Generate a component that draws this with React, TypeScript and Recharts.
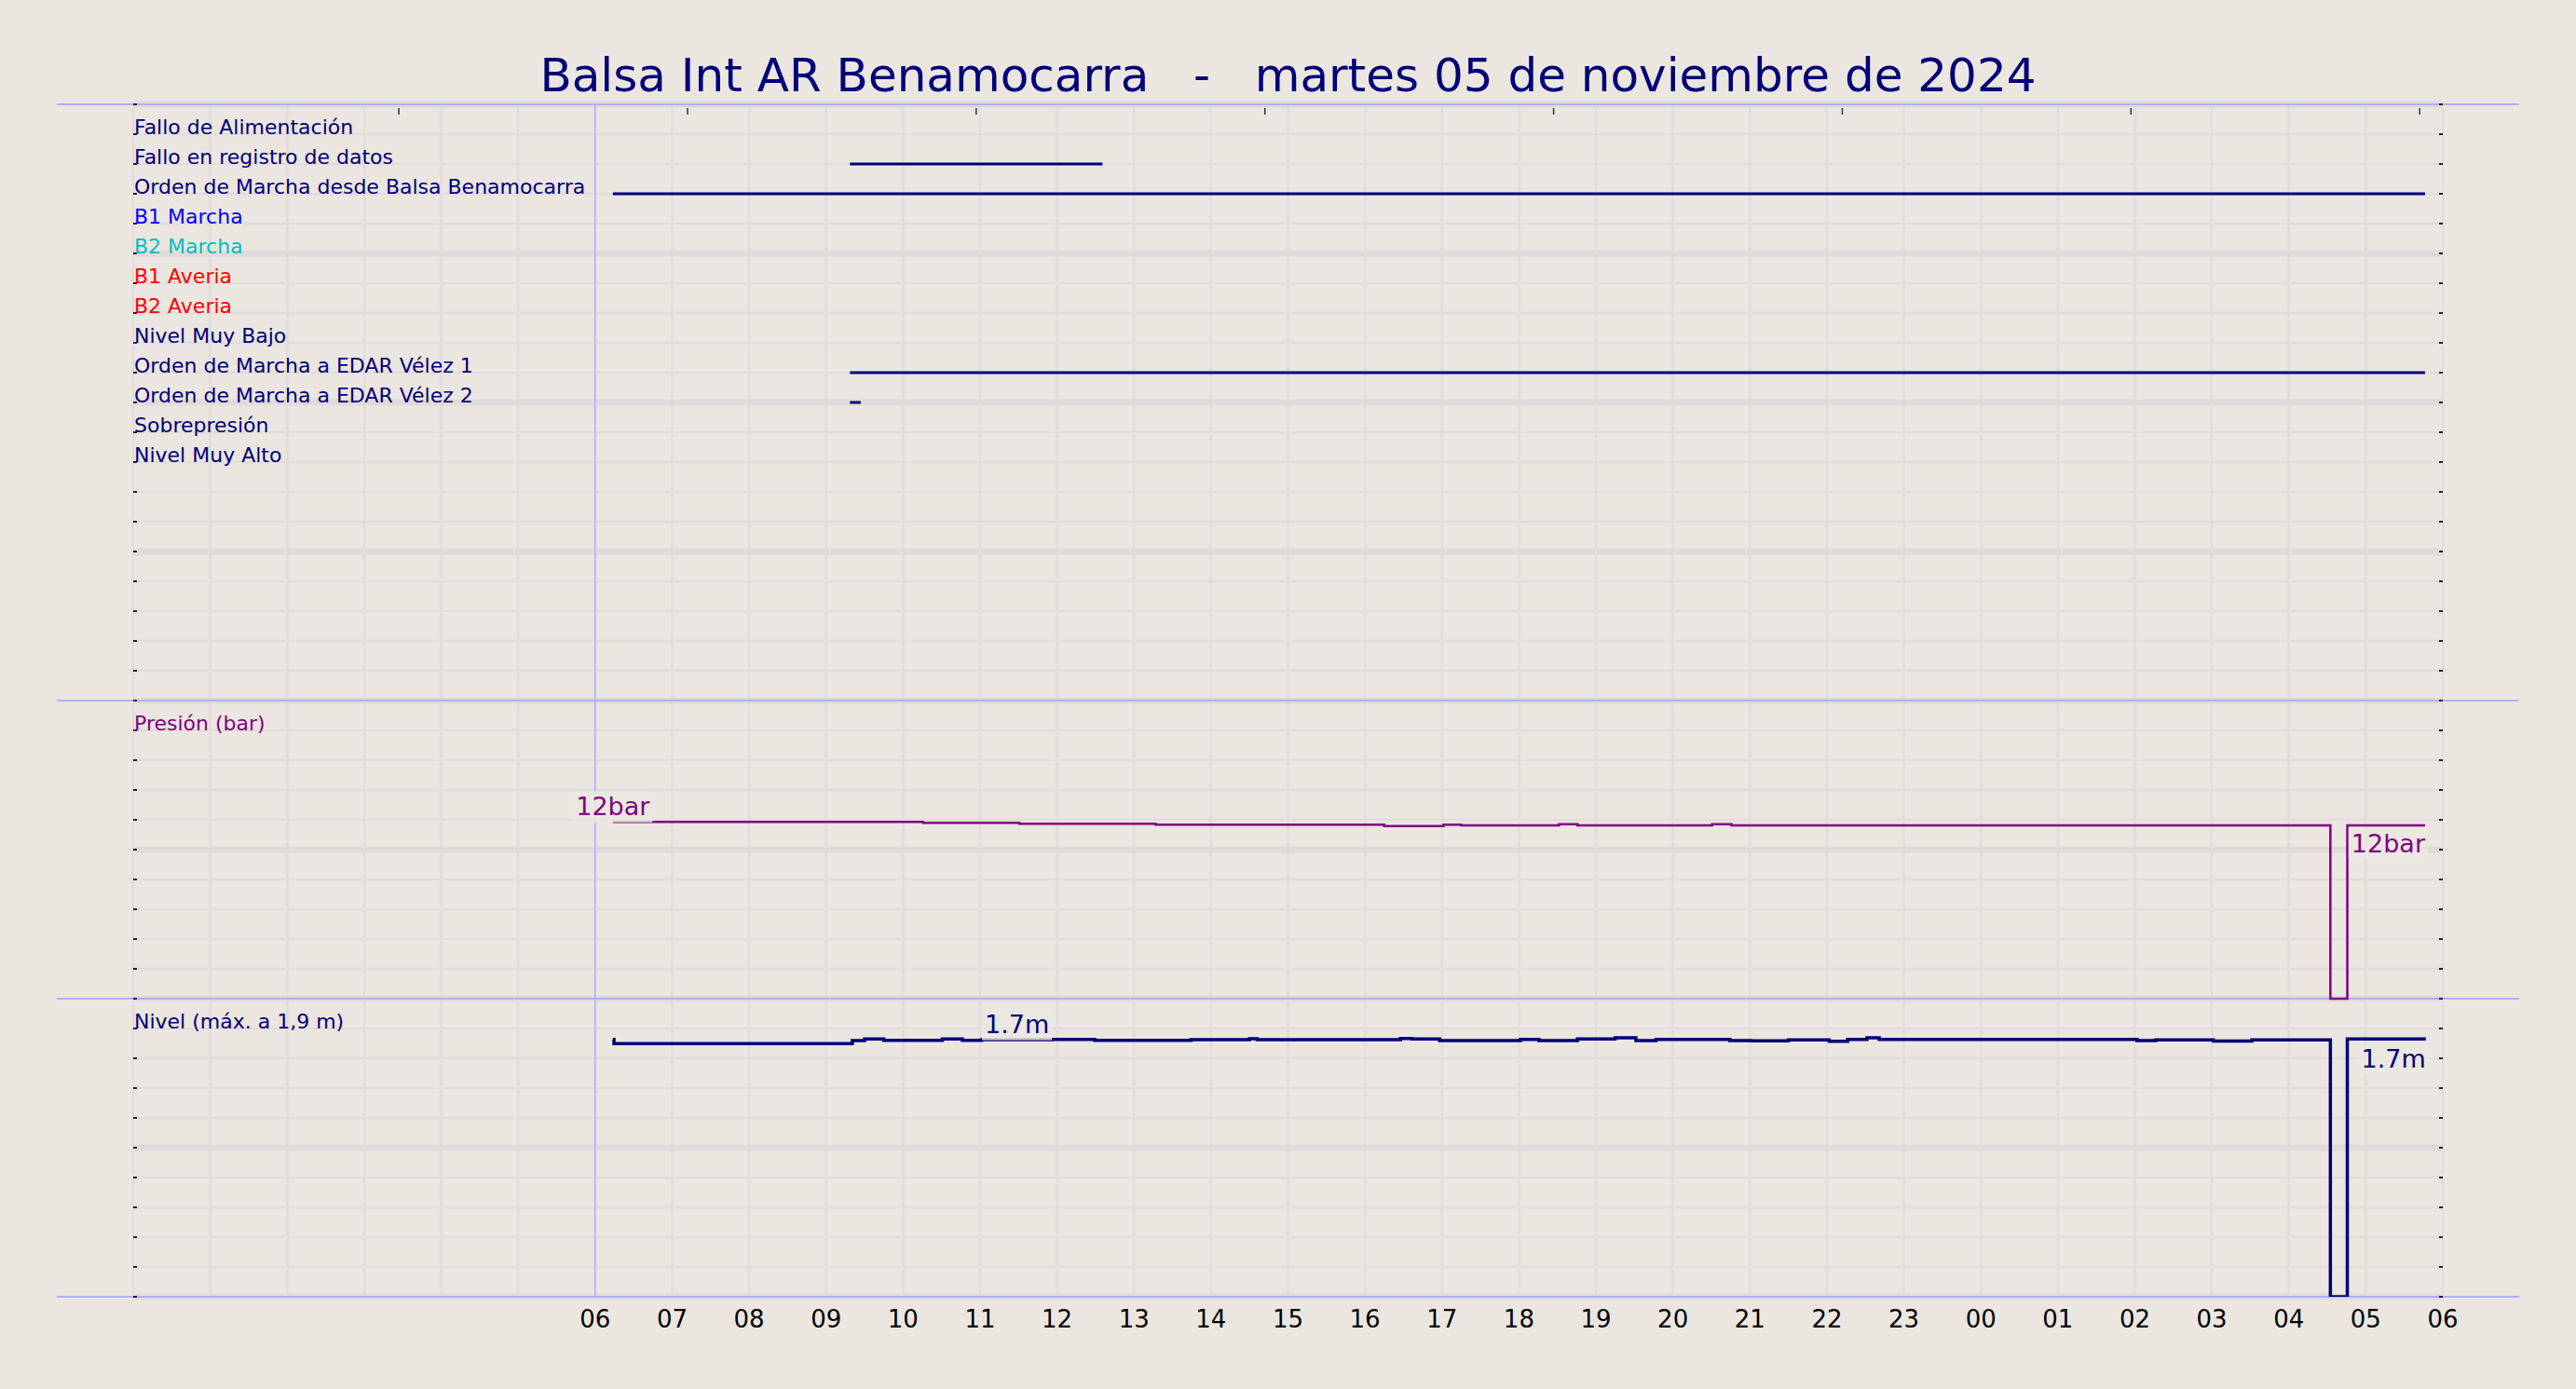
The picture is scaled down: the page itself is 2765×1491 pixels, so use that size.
import React from 'react';
import { ComposedChart, Line, XAxis, YAxis, CartesianGrid, ReferenceLine } from 'recharts';

// ---------- data ----------
const TITLE = 'Balsa Int AR Benamocarra   -   martes 05 de noviembre de 2024';

// x axis: hours since 00:00 of the first day (0..30), labelled from 06 to 06
const xTickHours = [0, 1, 2, 3, 4, 5, 6, 7, 8, 9, 10, 11, 12, 13, 14, 15, 16, 17, 18, 19, 20, 21, 22, 23, 24, 25, 26, 27, 28, 29, 30];
const xTickLabels = ['', '', '', '', '', '', '06', '07', '08', '09', '10', '11', '12', '13', '14', '15', '16', '17', '18', '19', '20', '21', '22', '23', '00', '01', '02', '03', '04', '05', '06'];
const topTickHours = [3.45, 7.2, 10.95, 14.7, 18.45, 22.2, 25.95, 29.7];

// row grid (40 rows across the three panels)
const rowTicks = [0, 1, 2, 3, 4, 5, 6, 7, 8, 9, 10, 11, 12, 13, 14, 15, 16, 17, 18, 19, 20, 21, 22, 23, 24, 25, 26, 27, 28, 29, 30, 31, 32, 33, 34, 35, 36, 37, 38, 39, 40];
const bandTicks = [0, 5, 10, 15, 20, 25, 30, 35];
const panelBounds = [40, 20, 10, 0];

// digital signals
const signalNames = [
  'Fallo de Alimentación',
  'Fallo en registro de datos',
  'Orden de Marcha desde Balsa Benamocarra',
  'B1 Marcha',
  'B2 Marcha',
  'B1 Averia',
  'B2 Averia',
  'Nivel Muy Bajo',
  'Orden de Marcha a EDAR Vélez 1',
  'Orden de Marcha a EDAR Vélez 2',
  'Sobrepresión',
  'Nivel Muy Alto',
];
const signalColors = ['#000078', '#000078', '#000078', '#0000ff', '#00bfbf', '#ff0000', '#ff0000', '#000078', '#000078', '#000078', '#000078', '#000078'];
const signalRows = [39, 38, 37, 36, 35, 34, 33, 32, 31, 30, 29, 28];
const signalOnIntervals: number[][][] = [
  [],
  [[9.31, 12.59]],
  [[6.23, 29.77]],
  [],
  [],
  [],
  [],
  [],
  [[9.31, 29.77]],
  [[9.31, 9.45]],
  [],
  [],
];

// analog panels
const pressureTitle = 'Presión (bar)';
const pressureTitleRow = 19;
const levelTitle = 'Nivel (máx. a 1,9 m)';
const levelTitleRow = 9;

const pressureHours = [6.23, 10.26, 11.51, 13.28, 16.25, 17.02, 17.25, 18.52, 18.76, 20.51, 20.76, 28.54, 28.76, 29.77];
const pressureBar = [11.86, 11.79, 11.73, 11.67, 11.58, 11.67, 11.62, 11.71, 11.62, 11.71, 11.62, 0, 11.62, 11.62];
const pressureMarkHour = 6.23;

const levelHours = [6.23, 6.245, 9.34, 9.5, 9.75, 10.51, 10.77, 11.02, 11.48, 11.93, 12.49, 13.74, 14.5, 14.6, 16.46, 16.61, 16.97, 18.02, 18.26, 18.76, 19.25, 19.52, 19.78, 20.74, 21.01, 21.5, 22.03, 22.27, 22.52, 22.68, 26.03, 26.27, 27.02, 27.52, 28.02, 28.54, 28.76, 29.78];
const levelM = [1.727, 1.698, 1.719, 1.729, 1.721, 1.729, 1.721, 1.725, 1.725, 1.727, 1.721, 1.725, 1.731, 1.725, 1.733, 1.729, 1.719, 1.727, 1.719, 1.729, 1.737, 1.719, 1.727, 1.719, 1.717, 1.723, 1.714, 1.727, 1.737, 1.727, 1.719, 1.723, 1.716, 1.723, 1.723, 0, 1.729, 1.729];
const levelMarkHour = 11.48;

// ---------- style ----------
const W = 2765;
const H = 1491;
const BG = '#ebe6e0';
const NAVY = '#000078';
const PURPLE = '#800080';
const SEP = '#b0b0ff';
const GRID = '#e2ddd9';
const BAND = '#e0dbda';
const FONT = 'DejaVu Sans';
const SEP_EXT = 82;

const pressureData = pressureHours.map((h, i) => ({ h, v: pressureBar[i] }));
const levelData = levelHours.map((h, i) => ({ h, v: levelM[i] }));

const CW: Record<string, number> = { '.': 0.318, b: 0.635, a: 0.613, r: 0.411, m: 0.974 };
const textW = (s: string, fs: number) => s.split('').reduce((acc, c) => acc + (CW[c] ?? 0.636), 0) * fs;

const rowLabel = (v: number): { text: string; color: string } | null => {
  const i = signalRows.indexOf(v);
  if (i >= 0) return { text: signalNames[i], color: signalColors[i] };
  if (v === pressureTitleRow) return { text: pressureTitle, color: PURPLE };
  if (v === levelTitleRow) return { text: levelTitle, color: NAVY };
  return null;
};

const RowTick = (props: any) => {
  const { x, y, payload } = props;
  const lab = rowLabel(payload.value);
  if (!lab) return <g />;
  return (
    <text x={x - 3} y={y} fill={lab.color} fontSize={22} fontFamily={FONT} textAnchor="start">
      {lab.text}
    </text>
  );
};

const EmptyTick = () => <g />;

const HourTick = (props: any) => {
  const { x, y, payload } = props;
  const i = xTickHours.indexOf(payload.value);
  const t = i >= 0 ? xTickLabels[i] : '';
  return (
    <text x={x} y={y + 19} textAnchor="middle" fontSize={26} fill="#000" fontFamily={FONT}>
      {t}
    </text>
  );
};

const SeparatorShape = (p: any) => (
  <line x1={p.x1 - SEP_EXT} y1={p.y1} x2={p.x2 + SEP_EXT} y2={p.y2} stroke={SEP} strokeWidth={2} />
);

const makeValueLabel = (
  markIndex: number,
  lastIndex: number,
  fmt: (v: number) => string,
  color: string,
  belowOffset: number
) => (props: any) => {
  const { x, y, value, index } = props;
  if (index !== markIndex && index !== lastIndex) return <g key={`n${index}`} />;
  const fs = 27;
  const text = fmt(Number(value));
  const w = textW(text, fs);
  let tx: number;
  let baseline: number;
  let boxBottom: number;
  if (index === markIndex) {
    tx = x - w / 2;
    baseline = y - 7;
    boxBottom = y + 0.5;
  } else {
    tx = x - w;
    baseline = y + belowOffset;
    boxBottom = baseline + 6;
  }
  const boxTop = baseline - 26;
  return (
    <g key={`l${index}`}>
      <rect x={tx - 3} y={boxTop} width={w + 6} height={boxBottom - boxTop} fill={BG} fillOpacity={0.85} />
      <text x={tx} y={baseline} fontSize={fs} fill={color} fontFamily={FONT}>
        {text}
      </text>
    </g>
  );
};

const pressureLabel = makeValueLabel(
  pressureHours.indexOf(pressureMarkHour),
  pressureHours.length - 1,
  (v) => `${Math.round(v)}bar`,
  PURPLE,
  29
);
const levelLabel = makeValueLabel(
  levelHours.indexOf(levelMarkHour),
  levelHours.length - 1,
  (v) => `${v.toFixed(1)}m`,
  NAVY,
  31
);

export default function App() {
  return (
    <div style={{ position: 'relative', width: W, height: H, background: BG }}>
      <style>{`body{margin:0;background:${BG};}`}</style>
      <ComposedChart width={W} height={H} margin={{ top: 112, right: 143, bottom: 69, left: 143 }}>
        <CartesianGrid stroke={GRID} strokeWidth={2.5} yAxisId={0} xAxisId={0} />
        <CartesianGrid stroke={BAND} strokeWidth={7} vertical={false} yAxisId="band" xAxisId={0} />
        <XAxis
          xAxisId={0}
          dataKey="h"
          type="number"
          domain={[0, 30]}
          allowDataOverflow
          ticks={xTickHours}
          interval={0}
          tick={<HourTick />}
          tickLine={false}
          axisLine={false}
          tickSize={0}
          tickMargin={14}
        />
        <XAxis
          xAxisId="top"
          dataKey="h"
          type="number"
          orientation="top"
          mirror
          domain={[0, 30]}
          allowDataOverflow
          ticks={topTickHours}
          interval={0}
          tick={<EmptyTick />}
          axisLine={false}
          tickSize={11}
          tickLine={{ stroke: '#333', strokeWidth: 1.5, strokeDasharray: '7 30' }}
        />
        <YAxis
          yAxisId={0}
          type="number"
          orientation="left"
          mirror
          domain={[0, 40]}
          allowDataOverflow
          ticks={rowTicks}
          interval={0}
          tick={<RowTick />}
          tickSize={4}
          tickMargin={0}
          axisLine={false}
          tickLine={{ stroke: '#222', strokeWidth: 2 }}
        />
        <YAxis
          yAxisId="right"
          type="number"
          orientation="right"
          mirror
          domain={[0, 40]}
          allowDataOverflow
          ticks={rowTicks}
          interval={0}
          tick={<EmptyTick />}
          tickSize={4}
          axisLine={false}
          tickLine={{ stroke: '#222', strokeWidth: 2 }}
        />
        <YAxis yAxisId="band" type="number" hide domain={[0, 40]} allowDataOverflow ticks={bandTicks} interval={0} />
        <YAxis yAxisId="p" type="number" hide domain={[-20, 60]} allowDataOverflow />
        <YAxis yAxisId="l" type="number" hide domain={[0, 8]} allowDataOverflow />

        <ReferenceLine x={6} xAxisId={0} yAxisId={0} stroke={SEP} strokeWidth={1.5} />
        {panelBounds.map((b) => (
          <ReferenceLine key={`sep${b}`} y={b} yAxisId={0} xAxisId={0} shape={SeparatorShape} />
        ))}

        {signalOnIntervals.map((ivs, i) =>
          ivs.map((iv, j) => (
            <Line
              key={`sig${i}-${j}`}
              name={`sig${i}-${j}`}
              data={[
                { h: iv[0], v: signalRows[i] },
                { h: iv[1], v: signalRows[i] },
              ]}
              dataKey="v"
              xAxisId={0}
              yAxisId={0}
              type="linear"
              stroke={NAVY}
              strokeWidth={3}
              dot={false}
              activeDot={false}
              isAnimationActive={false}
            />
          ))
        )}

        <Line
          name="pressure"
          data={pressureData}
          dataKey="v"
          xAxisId={0}
          yAxisId="p"
          type="stepAfter"
          stroke={PURPLE}
          strokeWidth={2.5}
          dot={false}
          activeDot={false}
          isAnimationActive={false}
          label={pressureLabel}
        />
        <Line
          name="level"
          data={levelData}
          dataKey="v"
          xAxisId={0}
          yAxisId="l"
          type="stepAfter"
          stroke={NAVY}
          strokeWidth={3.5}
          dot={false}
          activeDot={false}
          isAnimationActive={false}
          label={levelLabel}
        />
      </ComposedChart>
      <svg width={W} height={140} style={{ position: 'absolute', left: 0, top: 0, pointerEvents: 'none' }}>
        <text
          x={W / 2}
          y={98}
          textAnchor="middle"
          fontSize={50}
          fill={NAVY}
          fontFamily={FONT}
          style={{ whiteSpace: 'pre' }}
        >
          {TITLE}
        </text>
      </svg>
    </div>
  );
}
